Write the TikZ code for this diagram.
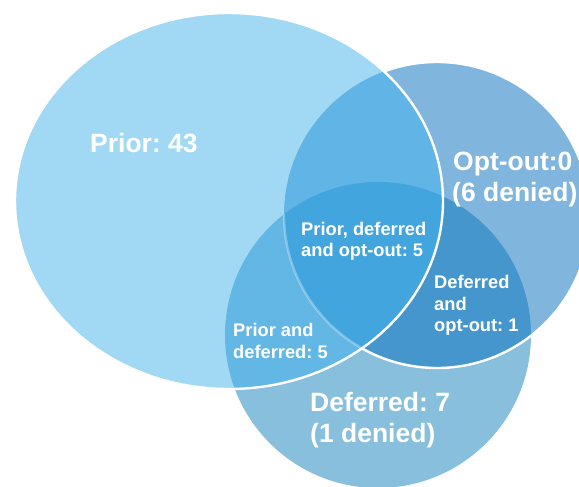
\documentclass[tikz,border=0pt]{standalone}
\usepackage{fontspec}
\setmainfont{Liberation Sans}
\definecolor{cP}{HTML}{A1D9F4}
\definecolor{cO}{HTML}{80B5DD}
\definecolor{cD}{HTML}{88BFDD}
\definecolor{cPO}{HTML}{60B5E6}
\definecolor{cPD}{HTML}{62B7E5}
\definecolor{cPDO}{HTML}{42A5DE}
\definecolor{cDO}{HTML}{4596CD}
\frenchspacing
\begin{document}
\begin{tikzpicture}[x=1pt,y=-1pt,
  big/.style={font=\fontsize{26.5}{30}\selectfont\bfseries, text=white, inner sep=0pt, anchor=base west},
  small/.style={font=\fontsize{18.3}{21}\selectfont\bfseries, text=white, inner sep=0pt, anchor=base west},
  outline/.style={draw=white, line width=2.4pt}]
\def\priorpath{(229,201) ellipse [x radius=214, y radius=188]}
\def\optpath{(437,215) circle [radius=153]}
\def\defpath{(378,335) circle [radius=153]}
\fill[white] (0,0) rectangle (579,487);
\useasboundingbox (0,0) rectangle (579,487);
\clip (0,0) rectangle (579,487);
% Deferred and Opt-out
\fill[cD] \defpath;
\fill[cO] \optpath;
\begin{scope}
  \clip \optpath;
  \fill[cDO] \defpath;
\end{scope}
\draw[outline] \optpath;
% Prior and its overlaps
\fill[cP] \priorpath;
\begin{scope}
  \clip \priorpath;
  \fill[cPO] \optpath;
  \fill[cPD] \defpath;
  \begin{scope}
    \clip \optpath;
    \fill[cPDO] \defpath;
  \end{scope}
  \begin{scope}
    \clip \defpath;
    \draw[outline, draw opacity=0.3] \optpath;
  \end{scope}
\end{scope}
\draw[outline] \priorpath;
% Labels
\node[big] (prior) at (90,153) {Prior: 43};
\node[big] (opt1) at (453,170) {Opt-out:0};
\node[big] (opt2) at (452,201) {(6 denied)};
\node[big] (def1) at (310,411) {Deferred: 7};
\node[big] (def2) at (310,442) {(1 denied)};
\node[small] (pdo1) at (301,235) {Prior, deferred};
\node[small] (pdo2) at (301,256) {and opt-out: 5};
\node[small] (do1) at (434,288) {Deferred};
\node[small] (do2) at (434,310) {and};
\node[small] (do3) at (434,331) {opt-out: 1};
\node[small] (pd1) at (233,336) {Prior and};
\node[small] (pd2) at (233,358) {deferred: 5};
\end{tikzpicture}
\end{document}
